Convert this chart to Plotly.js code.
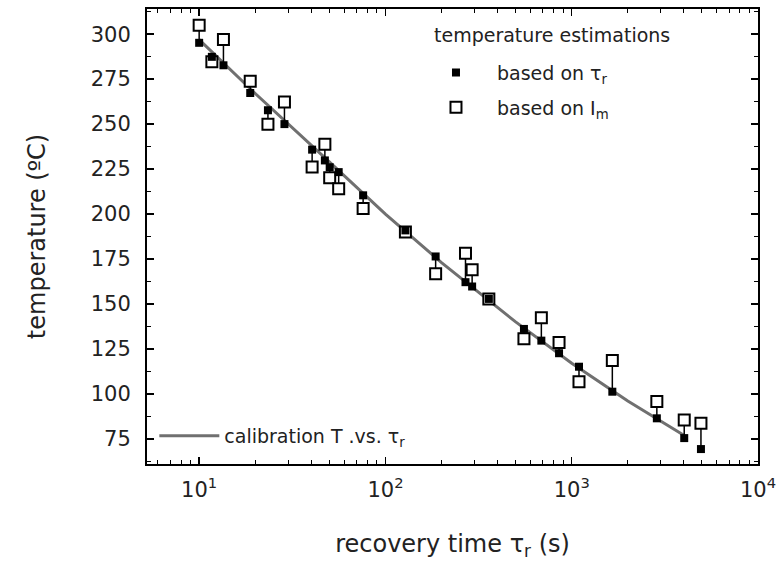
<!DOCTYPE html>
<html>
<head>
<meta charset="utf-8">
<script src="https://cdn.plot.ly/plotly-3.0.1.min.js"></script>
<style>html,body{margin:0;padding:0;background:#fff;}#chart{width:782px;height:569px;}</style>
</head>
<body>
<div id="chart"></div>
<script>
// recovery time (s) of each measurement
const tau = [10.0, 11.7, 13.5, 18.8, 23.4, 28.7, 40.4, 47.3, 50.2, 56.1, 75.9, 128, 186, 269, 292, 359, 554, 687, 855, 1094, 1652, 2864, 4018, 4940];
// temperature estimated from tau_r (filled squares)
const tempFromTau = [295.2, 287.4, 282.7, 267.3, 257.7, 250.0, 235.8, 229.8, 226.0, 223.3, 210.4, 190.9, 176.4, 162.1, 159.7, 152.8, 136.1, 129.6, 122.6, 115.1, 101.2, 86.4, 75.4, 69.3];
// temperature estimated from I_m (open squares)
const tempFromIm = [305.0, 284.6, 297.0, 273.8, 249.9, 262.3, 226.1, 238.8, 220.2, 214.1, 203.0, 190.0, 166.8, 178.2, 169.0, 152.8, 130.6, 142.3, 128.5, 106.8, 118.5, 95.7, 85.5, 83.6];
// calibration curve
const calTau = [10, 20, 50, 100, 200, 500, 1000, 2000, 4000];
const calTemp = [297, 267, 229, 200, 173, 140, 117, 96, 77];
// axis ticks
const yTicks = [75, 100, 125, 150, 175, 200, 225, 250, 275, 300];
const xTickVals = [10, 100, 1000, 10000];
const xTickText = ['10<sup>1</sup>', '10<sup>2</sup>', '10<sup>3</sup>', '10<sup>4</sup>'];
const decades = [1, 10, 100, 1000];
const minorMultipliers = [2, 3, 4, 5, 6, 7, 8, 9];
const xMinorVals = [];
decades.forEach(d => minorMultipliers.forEach(m => xMinorVals.push(d * m)));

const FONT = 'DejaVu Sans, Arial, sans-serif';

// vertical connectors between the two estimations
const cx = [], cy = [];
tau.forEach((t, i) => { cx.push(t, t, null); cy.push(tempFromTau[i], tempFromIm[i], null); });

const traces = [
  {x: calTau, y: calTemp, mode: 'lines', name: 'calibration T .vs. τ<sub>r</sub>',
   line: {color: '#707070', width: 3}, legend: 'legend2'},
  {x: cx, y: cy, mode: 'lines', line: {color: '#000', width: 1.5}, showlegend: false, hoverinfo: 'skip'},
  {x: tau, y: tempFromIm, mode: 'markers', name: 'based on I<sub>m</sub>', legendgroup: 'b', legendrank: 2,
   marker: {symbol: 'square', size: 11, color: '#fff', line: {color: '#000', width: 2}}},
  {x: tau, y: tempFromTau, mode: 'markers', name: 'based on τ<sub>r</sub>', legendgroup: 'a', legendrank: 1,
   marker: {symbol: 'square', size: 8, color: '#000', line: {color: '#000', width: 0}}}
];

const axisCommon = {
  showline: true, linecolor: '#000', linewidth: 2, mirror: 'allticks',
  ticks: 'inside', ticklen: 7, tickwidth: 1.5, tickcolor: '#000',
  showgrid: false, zeroline: false,
  tickfont: {family: FONT, size: 21, color: '#222'}
};

const layout = {
  width: 782, height: 569,
  margin: {l: 147, r: 24, t: 9, b: 105},
  paper_bgcolor: '#fff', plot_bgcolor: '#fff',
  font: {family: FONT, color: '#222'},
  xaxis: Object.assign({}, axisCommon, {
    type: 'log', range: [0.72, 4.0],
    tickvals: xTickVals, ticktext: xTickText,
    ticklabelstandoff: 6,
    minor: {tickmode: 'array', tickvals: xMinorVals, ticks: 'inside', ticklen: 4, tickwidth: 1, tickcolor: '#000', showgrid: false},
    title: {text: 'recovery time τ<sub>r</sub> (s)', font: {family: FONT, size: 24, color: '#222'}, standoff: 34}
  }),
  yaxis: Object.assign({}, axisCommon, {
    range: [61, 314], tickvals: yTicks,
    ticklabelstandoff: 10,
    minor: {dtick: 12.5, tick0: 75, ticks: 'inside', ticklen: 4, tickwidth: 1, tickcolor: '#000', showgrid: false},
    title: {text: 'temperature (ºC)', font: {family: FONT, size: 24, color: '#222'}, standoff: 38}
  }),
  annotations: [{
    text: 'temperature estimations', xref: 'paper', yref: 'paper',
    x: 0.466, y: 0.943, xanchor: 'left', yanchor: 'middle', showarrow: false,
    font: {family: FONT, size: 19, color: '#222'}
  }],
  legend: {
    x: 0.4386, xanchor: 'left', y: 0.902, yanchor: 'top',
    bgcolor: 'rgba(0,0,0,0)', borderwidth: 0,
    font: {family: FONT, size: 19, color: '#222'},
    itemwidth: 72, traceorder: 'grouped', tracegroupgap: 7
  },
  legend2: {
    x: 0.012, xanchor: 'left', y: 0.02, yanchor: 'bottom',
    bgcolor: 'rgba(0,0,0,0)', borderwidth: 0,
    font: {family: FONT, size: 19, color: '#222'},
    itemwidth: 60
  },
  showlegend: true
};

Plotly.newPlot('chart', traces, layout, {displayModeBar: false, staticPlot: true});
</script>
</body>
</html>
